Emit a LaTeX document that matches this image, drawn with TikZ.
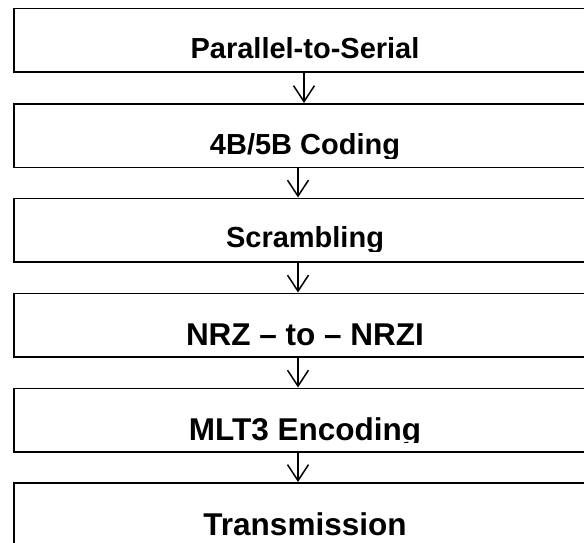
\documentclass[tikz,border=0pt]{standalone}
\usepackage{fontspec}
\setmainfont{Liberation Sans}
\usetikzlibrary{arrows.meta}
\begin{document}
\begin{tikzpicture}[x=1pt,y=-1pt,
  stagebox/.style={draw=black, line width=1.5pt, rectangle, minimum width=584pt, minimum height=63.5pt, anchor=north west, inner sep=0pt},
  smalllbl/.style={anchor=base, inner sep=0pt, font=\fontsize{29}{30}\selectfont\bfseries},
  biglbl/.style={anchor=base, inner sep=0pt, font=\fontsize{31.5}{32}\selectfont\bfseries},
  flowarrow/.style={draw=black, line width=1.5pt, -{Straight Barb[length=16pt,width=21pt,line width=1.5pt]}}
]
\useasboundingbox (0,0) rectangle (584,543);
\clip (0,0) rectangle (584,543);
% boxes
\node[stagebox] (b1) at (13,8) {};
\node[stagebox] (b2) at (13,103) {};
\node[stagebox] (b3) at (13,197.5) {};
\node[stagebox] (b4) at (13,292.5) {};
\node[stagebox] (b5) at (13,387.5) {};
\node[stagebox] (b6) at (13,482) {};
% labels
\node[smalllbl] (t1) at (305,58.5) {Parallel-to-Serial};
\begin{scope}
  \clip (0,103) rectangle (584,158.5);
  \node[smalllbl] (t2) at (305,154) {4B/5B Coding};
\end{scope}
\begin{scope}
  \clip (0,197.5) rectangle (584,251);
  \node[smalllbl] (t3) at (305,247.5) {Scrambling};
\end{scope}
\node[biglbl] (t4) at (305,345.5) {NRZ -- to -- NRZI};
\begin{scope}
  \clip (0,387.5) rectangle (584,442.5);
  \node[biglbl] (t5) at (305,440.5) {MLT3 Encoding};
\end{scope}
\node[biglbl] (t6) at (305,535.5) {Transmission};
% arrows
\draw[flowarrow] (304,0 |- b1.south) -- (304,0 |- b2.north);
\draw[flowarrow] (298,0 |- b2.south) -- (298,0 |- b3.north);
\draw[flowarrow] (298,0 |- b3.south) -- (298,0 |- b4.north);
\draw[flowarrow] (298,0 |- b4.south) -- (298,0 |- b5.north);
\draw[flowarrow] (298,0 |- b5.south) -- (298,0 |- b6.north);
\end{tikzpicture}
\end{document}
